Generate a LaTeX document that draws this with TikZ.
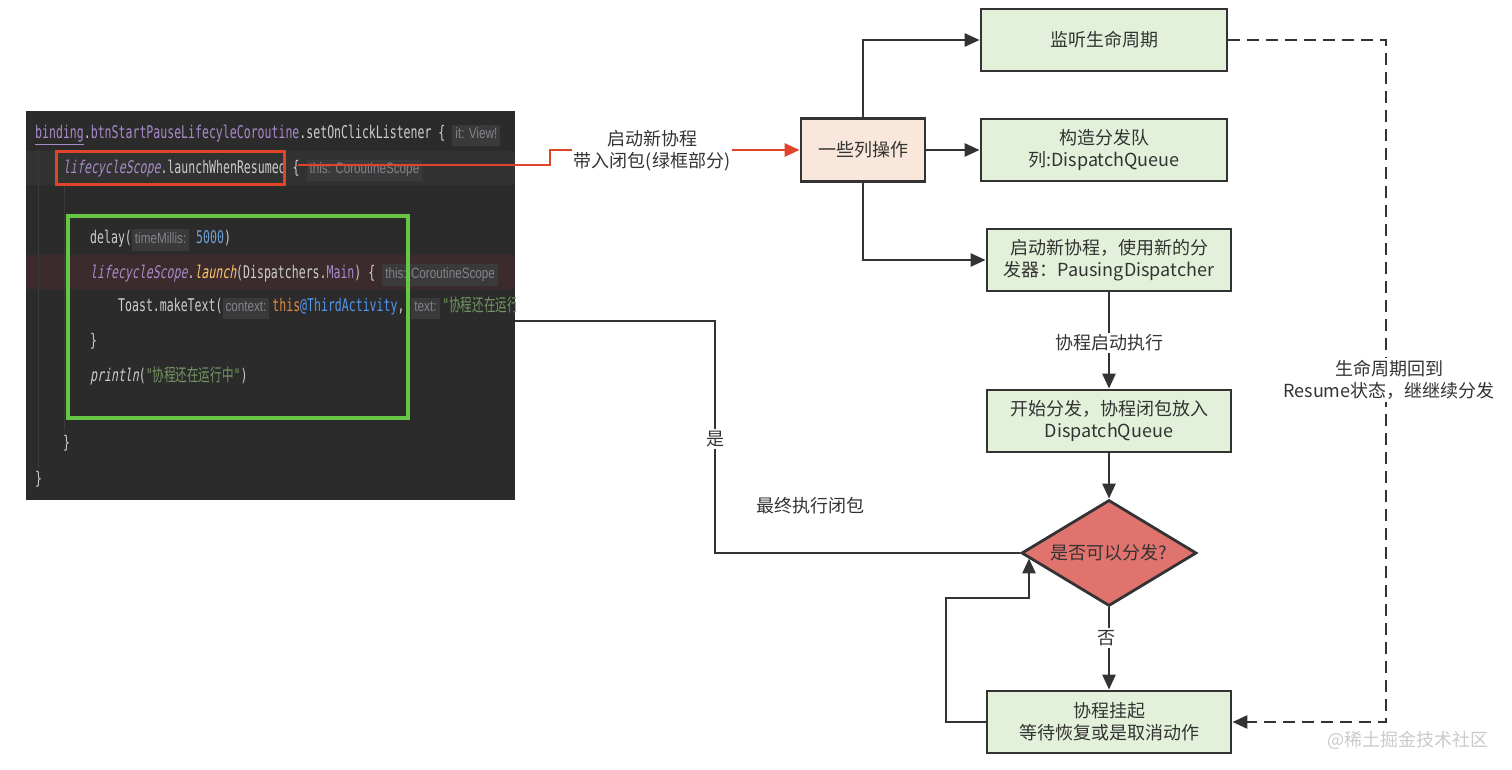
\documentclass[tikz,border=0pt]{standalone}
\usepackage{fontspec}
\setmainfont{Noto Sans CJK SC}
\newfontfamily\codefont[FakeStretch=0.66]{DejaVu Sans Mono}
\newfontfamily\codeitfont[FakeStretch=0.66,FakeSlant=0.18]{DejaVu Sans Mono}
\newfontfamily\codecjk[FakeStretch=0.66]{Noto Sans CJK SC}
\newfontfamily\hintfont[FakeStretch=0.78]{Liberation Sans}
\usetikzlibrary{shapes.geometric,arrows.meta,calc}

\definecolor{codebg}{HTML}{2B2B2B}
\definecolor{codefg}{HTML}{CDCDCD}
\definecolor{codecur}{HTML}{323232}
\definecolor{codeerr}{HTML}{3B2B2C}
\definecolor{codeguide}{HTML}{3A3A3A}
\definecolor{codepurple}{HTML}{A88AC8}
\definecolor{codeyellow}{HTML}{FFC66D}
\definecolor{codeorange}{HTML}{E08A3C}
\definecolor{codeblue}{HTML}{6FA0CF}
\definecolor{codelink}{HTML}{5394EC}
\definecolor{codestring}{HTML}{739462}
\definecolor{hintbg}{HTML}{3A3A3A}
\definecolor{hintfg}{HTML}{80848A}
\definecolor{redmark}{HTML}{E0452B}
\definecolor{greenmark}{HTML}{66C744}
\definecolor{linec}{HTML}{333333}
\definecolor{boxgreen}{HTML}{E4F1DA}
\definecolor{boxpeach}{HTML}{F8E7DA}
\definecolor{diamondred}{HTML}{E0736E}
\definecolor{wmgrey}{HTML}{CACACA}

\newcommand{\flowfont}{\fontsize{18pt}{22pt}\selectfont}
\newcommand{\codesize}{\fontsize{17.5pt}{19pt}\selectfont}
\newcommand{\codehint}[1]{{\setlength{\fboxsep}{3pt}\colorbox{hintbg}{\fontsize{15pt}{15pt}\hintfont\textcolor{hintfg}{\strut #1}}}}
\newcommand{\cit}[1]{{\codeitfont #1}}

\tikzset{
  flowbox/.style={draw=linec, line width=2.8pt, fill=boxgreen, text=linec, minimum width=244pt, minimum height=62pt, inner sep=2pt, align=center, font=\flowfont},
  opsbox/.style={flowbox, fill=boxpeach, minimum width=124pt, minimum height=63pt},
  decision/.style={diamond, aspect=1.65, draw=linec, line width=2.8pt, fill=diamondred, text=linec, minimum width=175pt, minimum height=106pt, inner sep=0pt, font=\flowfont},
  flowline/.style={draw=linec, line width=2.6pt},
  dashline/.style={flowline, dash pattern=on 12pt off 7pt},
  redline/.style={draw=redmark, line width=2.8pt},
  edgelabel/.style={fill=white, text=linec, inner sep=2pt, align=center, font=\flowfont},
  codeline/.style={anchor=base west, inner sep=0pt, text=codefg, font=\codesize\codefont},
}

\begin{document}
\begin{tikzpicture}[x=1pt,y=-1pt,>={Triangle[length=15pt,width=13pt]}]
\useasboundingbox (0,0) rectangle (1512,770);
% code screenshot
\node[fill=codebg, minimum width=489pt, minimum height=389pt, inner sep=0pt] (code) at (270.5,305.5) {};
\fill[codecur] (26,151) rectangle (515,185);
\fill[codeerr] (26,255) rectangle (515,289);
\draw[codeguide, line width=1pt] (38,150) -- (38,468);
\draw[codeguide, line width=1pt] (64,186) -- (64,430);
\begin{scope}
\clip (26,111) rectangle (515,500);
\node[codeline] (c1) at (35,139) {\textcolor{codepurple}{\underline{binding}}.\textcolor{codepurple}{btnStartPauseLifecyleCoroutine}.setOnClickListener \{ \codehint{it: View!}};
\node[codeline] (c2) at (63,174) {\textcolor{codepurple}{\cit{lifecycleScope}}.launchWhenResumed \{ \codehint{this: CoroutineScope}};
\node[codeline] (c3) at (90,243) {delay(\codehint{timeMillis:} \textcolor{codeblue}{5000})};
\node[codeline] (c4) at (90,278) {\textcolor{codepurple}{\cit{lifecycleScope}}.\textcolor{codeyellow}{\cit{launch}}(Dispatchers.\textcolor{codepurple}{Main}) \{ \codehint{this: CoroutineScope}};
\node[codeline] (c5) at (118,311) {Toast.makeText(\codehint{context:}\,\textcolor{codeorange}{this}\textcolor{codelink}{@ThirdActivity}, \codehint{text:}\,\textcolor{codestring}{"{\codecjk 协程还在运行中}"}};
\node[codeline] (c6) at (90,346) {\}};
\node[codeline] (c7) at (90,381) {\cit{println}(\textcolor{codestring}{"{\codecjk 协程还在运行中}"})};
\node[codeline] (c8) at (63,448) {\}};
\node[codeline] (c9) at (35,484) {\}};
\end{scope}
\node[draw=redmark, line width=3pt, minimum width=228pt, minimum height=33pt] (launch) at (170,168) {};
\node[draw=greenmark, line width=4.5pt, minimum width=340pt, minimum height=202pt] (closure) at (238,317) {};

% flow
\node[flowbox, minimum width=246pt] (listen) at (1104,40) {监听生命周期};
\node[flowbox, minimum width=246pt] (queue) at (1104,150) {构造分发队\\列:DispatchQueue};
\node[opsbox] (ops) at (863,150) {一些列操作};
\node[flowbox] (newco) at (1109,260) {启动新协程，使用新的分\\发器：PausingDispatcher};
\node[flowbox] (start) at (1109,421) {开始分发，协程闭包放入\\DispatchQueue};
\node[decision] (decide) at (1109,553) {是否可以分发?};
\node[flowbox] (suspend) at (1109,722) {协程挂起\\等待恢复或是取消动作};

\draw[flowline,->] (ops.north) |- (listen.west);
\draw[flowline,->] (ops.east) -- (queue.west);
\draw[flowline,->] (ops.south) |- (newco.west);
\draw[flowline,->] (newco.south) -- (start.north);
\node[edgelabel] (runlabel) at (1109,343) {协程启动执行};
\draw[flowline,->] (start.south) -- (decide.north);
\draw[flowline,->] (decide.south) -- (suspend.north);
\node[edgelabel] (nolabel) at (1106,638) {否};

\coordinate (loopcorner) at (946,598);
\coordinate (looptip) at ($(decide.west)!0.1!(decide.south)$);
\draw[flowline,->] (suspend.west) -| (loopcorner) -| (looptip);

\coordinate (yescorner) at (715,321);
\draw[flowline] (decide.west) -| (yescorner) -- (code.east |- yescorner);
\node[edgelabel] (yeslabel) at (715,439) {是};
\node[text=linec, font=\flowfont] (runclosure) at (810,506) {最终执行闭包};

\coordinate (resumecorner) at (1386,722);
\draw[dashline,->] (listen.east) -| (resumecorner) -- (suspend.east);
\node[edgelabel] (resumelabel) at (1389,380) {生命周期回到\\Resume状态，继继续分发};

\coordinate (redstart) at (298,165);
\coordinate (redcorner) at (550,165);
\draw[redline,->] (redstart) -- (redcorner) |- (ops.west);
\node[edgelabel] (launchlabel) at (652,151) {启动新协程\\带入闭包(绿框部分)};

\node[text=wmgrey, font=\flowfont] (watermark) at (1408,740) {@稀土掘金技术社区};
\end{tikzpicture}
\end{document}
